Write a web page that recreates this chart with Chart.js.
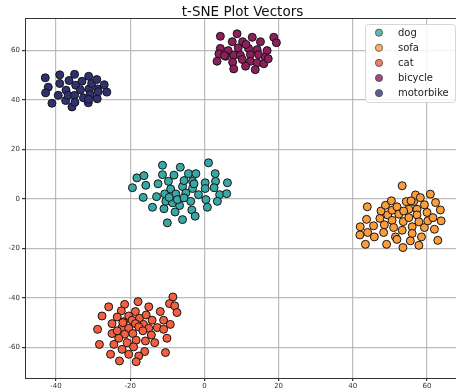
<!DOCTYPE html>
<html>
<head>
<meta charset="utf-8">
<title>t-SNE Plot Vectors</title>
<script src="https://cdn.jsdelivr.net/npm/chart.js@4/dist/chart.umd.min.js"></script>
<style>
  html, body { margin: 0; padding: 0; background: #ffffff; overflow: hidden; }
  #wrap { width: 456px; height: 388px; position: relative; }
</style>
</head>
<body>
<div id="wrap"><canvas id="c"></canvas></div>
<script>
// Class labels in legend order
const categories = ['dog', 'sofa', 'cat', 'bicycle', 'motorbike'];

// Embedded 2-D coordinates per class: [x, y]
const dogPoints = [
  [-19.4, 4.5], [-18.2, 8.5], [-16.3, 9.4], [-15.8, 5.5], [-16.5, 0.6], [-14.0, -3.4],
  [-12.9, 0.9], [-12.5, 6.1], [-11.3, 13.6], [-11.3, 9.8], [-10.7, 2.0], [-10.9, -4.0],
  [-10.0, -9.7], [-9.7, 7.1], [-9.1, 4.0], [-8.2, 9.6], [-7.7, 2.0], [-7.9, -5.3],
  [-6.5, 12.8], [-5.9, 5.0], [-5.5, 7.4], [-5.9, -8.4], [-6.7, -2.7], [-5.0, 2.4],
  [-4.3, 10.2], [-3.2, 7.1], [-3.2, 4.2], [-3.7, -1.0], [-3.4, -4.5], [-2.5, -7.0],
  [-2.3, 10.2], [-2.8, 6.1], [-1.6, 1.7], [0.2, 6.5], [0.2, 4.2], [0.4, -0.3],
  [0.8, -3.4], [1.1, 14.6], [2.9, 10.2], [3.0, 7.1], [2.6, 4.5], [4.1, 1.7],
  [3.5, -1.0], [6.0, 2.1], [6.2, 6.5], [-10.4, -1.0], [-8.6, -1.6], [-9.5, 0.6],
  [-7.3, -0.3], [-5.5, 0.4]
];
const sofaPoints = [
  [53.3, 5.3], [43.9, -3.2], [42.0, -11.3], [43.7, -8.3], [41.9, -14.6], [44.0, -13.6],
  [45.6, -10.9], [45.8, -15.4], [43.4, -18.4], [47.3, -7.9], [47.6, -4.9], [48.5, -10.5],
  [48.3, -13.6], [48.8, -2.6], [49.1, -18.4], [49.4, -6.5], [50.4, -0.8], [50.6, -4.6],
  [50.6, -8.7], [51.0, -11.6], [51.5, -15.4], [51.9, -16.4], [51.9, -3.2], [52.4, -6.2],
  [53.6, -9.2], [53.3, -12.7], [53.5, -19.7], [54.4, -1.1], [55.1, -7.6], [55.1, -4.2],
  [56.0, -11.3], [56.0, -14.0], [56.4, -1.1], [56.9, 1.6], [57.3, -4.2], [57.3, -6.5],
  [57.8, -9.3], [57.8, -18.8], [58.2, 0.5], [58.5, -15.4], [59.3, -2.4], [59.3, -11.6],
  [60.0, -5.5], [60.2, -8.9], [60.9, 1.9], [61.6, -7.6], [62.0, -12.3], [62.3, -1.5],
  [62.9, -16.8], [63.6, -4.5], [63.8, -8.9], [55.7, -0.8], [53.7, -4.9], [55.5, -17.0]
];
const catPoints = [
  [-8.5, -39.7], [-9.4, -42.4], [-8.0, -43.3], [-7.4, -46.0], [-17.9, -41.6], [-21.5, -42.7],
  [-25.8, -43.7], [-15.0, -43.7], [-22.4, -45.3], [-18.6, -45.6], [-11.9, -45.6], [-27.6, -47.4],
  [-23.5, -47.8], [-20.4, -47.4], [-17.5, -48.3], [-15.7, -47.0], [-14.1, -49.1], [-11.0, -49.1],
  [-9.2, -50.8], [-24.9, -50.5], [-21.8, -49.7], [-19.5, -49.1], [-18.6, -50.5], [-16.4, -50.8],
  [-28.8, -52.8], [-22.2, -52.1], [-20.4, -52.4], [-17.7, -51.8], [-15.0, -52.4], [-12.7, -52.1],
  [-24.9, -54.5], [-21.5, -54.8], [-19.3, -54.5], [-16.6, -53.4], [-14.3, -55.1], [-11.0, -52.8],
  [-23.1, -56.4], [-20.8, -58.2], [-18.4, -57.2], [-15.9, -57.5], [-13.4, -58.2], [-10.1, -56.4],
  [-28.3, -58.9], [-24.4, -58.9], [-22.2, -60.9], [-19.1, -59.9], [-16.1, -61.8], [-25.3, -62.9],
  [-20.4, -62.9], [-17.7, -63.6], [-10.5, -62.2], [-22.9, -65.6], [-18.4, -65.9], [-23.5, -53.4],
  [-22.0, -50.1]
];
const bicyclePoints = [
  [4.3, 65.8], [8.8, 66.8], [7.5, 63.6], [10.3, 63.6], [12.9, 65.4], [15.1, 63.6],
  [18.7, 65.4], [19.4, 63.2], [4.3, 60.9], [6.4, 60.0], [9.1, 61.1], [11.9, 60.9],
  [14.2, 60.4], [16.9, 60.0], [3.9, 58.7], [5.7, 57.7], [7.9, 58.1], [9.7, 58.1],
  [12.4, 58.4], [14.6, 58.4], [16.4, 57.3], [3.4, 55.7], [7.6, 55.3], [10.2, 56.4],
  [12.4, 55.7], [14.2, 55.1], [16.0, 54.7], [17.2, 56.7], [7.9, 52.6], [11.1, 53.7],
  [13.7, 52.3], [11.2, 62.5], [5.4, 58.0]
];
const motorbikePoints = [
  [-42.9, 49.0], [-42.1, 45.2], [-42.8, 42.9], [-41.1, 38.7], [-39.0, 50.2], [-39.0, 46.7],
  [-39.4, 41.9], [-37.3, 44.0], [-37.4, 39.8], [-36.7, 41.9], [-36.5, 47.9], [-35.0, 50.4],
  [-34.7, 46.0], [-35.0, 41.9], [-35.7, 37.2], [-34.9, 39.1], [-33.4, 44.1], [-33.0, 47.6],
  [-32.6, 40.9], [-31.2, 49.6], [-31.1, 44.5], [-31.3, 38.9], [-30.8, 42.2], [-30.4, 46.7],
  [-29.0, 48.3], [-28.8, 44.5], [-28.9, 40.5], [-28.6, 43.4], [-27.0, 46.2], [-26.3, 43.2],
  [-31.2, 40.3]
];

// Tick values shown on each axis
const xTicks = [-40, -20, 0, 20, 40, 60];
const yTicks = [-60, -40, -20, 0, 20, 40, 60];

// Marker fills (plot) and lighter legend swatches
const fillColors = ['#38a8a6', '#fb9d3b', '#f4603f', '#8e1f5c', '#2f3272'];
const legendColors = ['#5cb9b8', '#fcb067', '#f27d63', '#a5477f', '#5a5d92'];

const seriesPoints = [dogPoints, sofaPoints, catPoints, bicyclePoints, motorbikePoints];

const datasets = categories.map((name, i) => ({
  label: name,
  data: seriesPoints[i].map(p => ({ x: p[0], y: p[1] })),
  backgroundColor: fillColors[i],
  borderColor: '#141414',
  borderWidth: 1,
  pointRadius: 4,
  pointHoverRadius: 4
}));

const FONT = '"DejaVu Sans", "Liberation Sans", sans-serif';

// Title, top spine and framed legend drawn on the canvas
const decorations = {
  id: 'decorations',
  afterDraw(chart) {
    const { ctx, chartArea } = chart;
    ctx.save();
    // top spine
    ctx.strokeStyle = '#333333';
    ctx.lineWidth = 1;
    ctx.beginPath();
    ctx.moveTo(chartArea.left, chartArea.top + 0.5);
    ctx.lineTo(chartArea.right, chartArea.top + 0.5);
    ctx.stroke();

    // title
    ctx.fillStyle = '#111111';
    ctx.font = '13.5px ' + FONT;
    ctx.textAlign = 'center';
    ctx.textBaseline = 'alphabetic';
    ctx.fillText('t-SNE Plot Vectors', 242.5, 15.5);

    // legend frame
    const bx = 365.5, by = 24.5, bw = 90, bh = 78, r = 3;
    ctx.beginPath();
    ctx.moveTo(bx + r, by);
    ctx.lineTo(bx + bw - r, by);
    ctx.arcTo(bx + bw, by, bx + bw, by + r, r);
    ctx.lineTo(bx + bw, by + bh - r);
    ctx.arcTo(bx + bw, by + bh, bx + bw - r, by + bh, r);
    ctx.lineTo(bx + r, by + bh);
    ctx.arcTo(bx, by + bh, bx, by + bh - r, r);
    ctx.lineTo(bx, by + r);
    ctx.arcTo(bx, by, bx + r, by, r);
    ctx.closePath();
    ctx.fillStyle = 'rgba(255,255,255,0.85)';
    ctx.fill();
    ctx.strokeStyle = '#d6d6d6';
    ctx.stroke();

    // legend entries
    ctx.font = '10px ' + FONT;
    ctx.textAlign = 'left';
    ctx.textBaseline = 'middle';
    chart.data.datasets.forEach((ds, i) => {
      const cy = 32.7 + i * 15.1;
      ctx.beginPath();
      ctx.arc(379, cy, 3.6, 0, Math.PI * 2);
      ctx.fillStyle = legendColors[i];
      ctx.fill();
      ctx.strokeStyle = '#4a4a4a';
      ctx.lineWidth = 0.8;
      ctx.stroke();
      ctx.fillStyle = '#222222';
      ctx.fillText(ds.label, 398, cy + 0.5);
    });
    ctx.restore();
  }
};

const keepTicks = (list) => (scale) => {
  scale.ticks = list.map(v => ({ value: v }));
};

new Chart(document.getElementById('c'), {
  type: 'scatter',
  data: { datasets },
  options: {
    responsive: true,
    maintainAspectRatio: false,
    animation: false,
    events: [],
    layout: { autoPadding: false, padding: { top: 18, right: 0, left: 0, bottom: 0 } },
    plugins: {
      legend: { display: false },
      title: { display: false },
      tooltip: { enabled: false }
    },
    scales: {
      x: {
        type: 'linear',
        min: -48.36,
        max: 67.81,
        afterBuildTicks: keepTicks(xTicks),
        afterFit(scale) {
          scale.height = 10;
          scale.paddingLeft = 0;
          scale.paddingRight = 0;
        },
        grid: {
          color: 'rgba(176,176,176,0.85)',
          lineWidth: 1.2,
          tickLength: 3,
          tickColor: '#333333'
        },
        border: { display: true, color: '#333333', width: 1 },
        ticks: {
          color: '#333333',
          padding: 1,
          font: { family: FONT, size: 7 },
          maxRotation: 0,
          autoSkip: false
        }
      },
      y: {
        type: 'linear',
        min: -72.5,
        max: 73.2,
        afterBuildTicks: keepTicks(yTicks),
        afterFit(scale) {
          scale.width = 25;
          scale.paddingTop = 0;
          scale.paddingBottom = 0;
        },
        grid: {
          color: 'rgba(176,176,176,0.85)',
          lineWidth: 1.2,
          tickLength: 3,
          tickColor: '#333333'
        },
        border: { display: true, color: '#333333', width: 1 },
        ticks: {
          color: '#333333',
          padding: 2,
          font: { family: FONT, size: 7 },
          autoSkip: false
        }
      }
    }
  },
  plugins: [decorations]
});
</script>
</body>
</html>
